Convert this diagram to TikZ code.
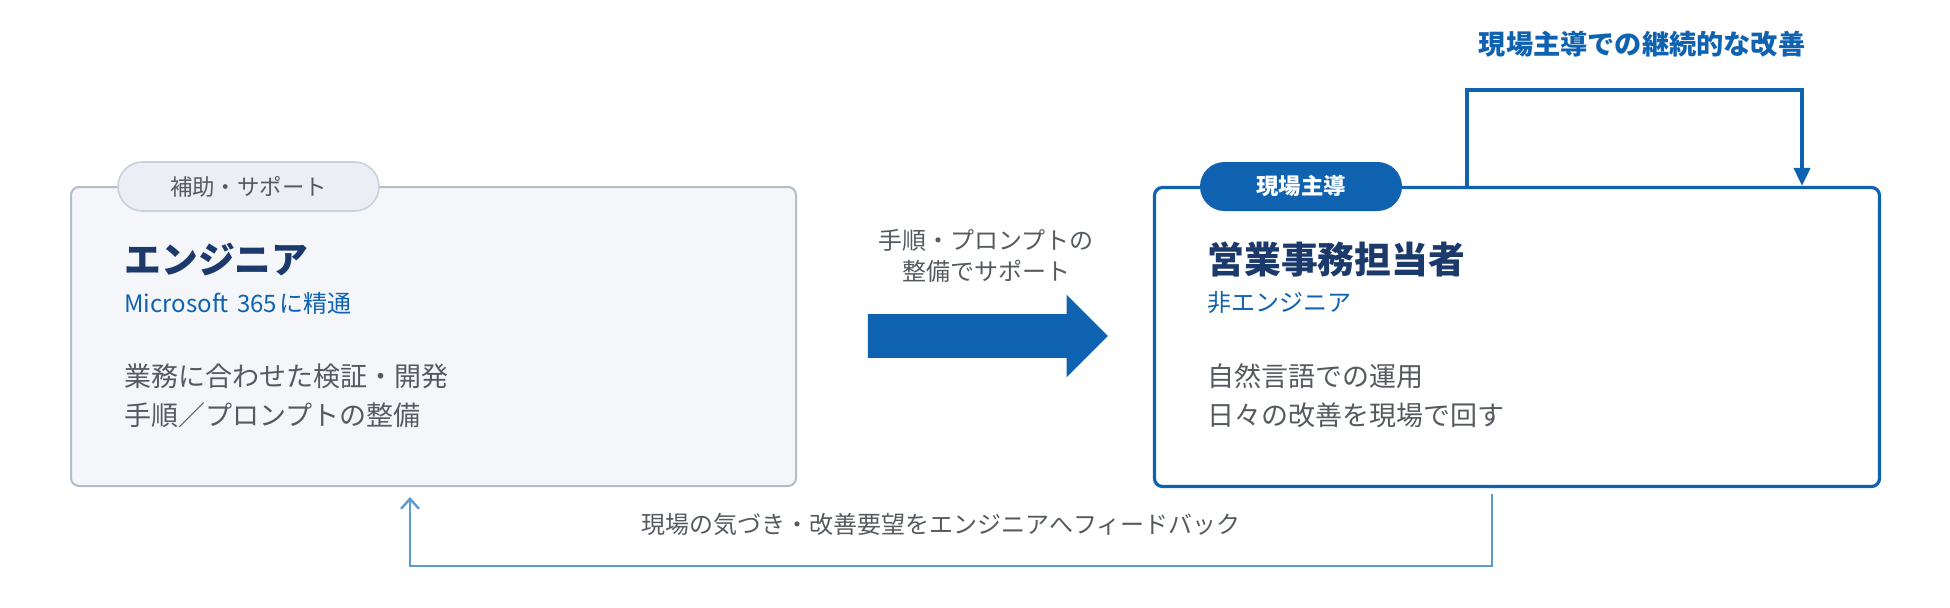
\documentclass[tikz,border=0pt]{standalone}
\usepackage{fontspec}
\setmainfont{Noto Sans CJK JP}
\usetikzlibrary{arrows.meta,shapes.arrows}
\definecolor{mainblue}{HTML}{0F62B0}
\definecolor{titlenavy}{HTML}{1B3A6B}
\definecolor{textgray}{HTML}{555A60}
\definecolor{boxfill}{HTML}{F4F6FA}
\definecolor{boxgray}{HTML}{B4BCC8}
\definecolor{tagfill}{HTML}{EBEFF5}
\definecolor{tagline}{HTML}{C9D1DC}
\definecolor{fbblue}{HTML}{5B9BD5}
\begin{document}
\begin{tikzpicture}[x=0.5pt,y=-0.5pt,
  panel/.style={rectangle,rounded corners=4pt,minimum width=362.5pt,minimum height=149.5pt,inner sep=0pt},
  tag/.style={rectangle,rounded corners=12.25pt,minimum height=24.5pt,inner sep=0pt,font=\fontsize{11.2}{13}\selectfont},
  title/.style={anchor=west,inner sep=0pt,text=titlenavy,font=\fontsize{18.4}{22}\selectfont\bfseries},
  sub/.style={anchor=west,inner sep=0pt,text=mainblue,font=\fontsize{12}{14}\selectfont},
  body/.style={anchor=west,inner sep=0pt,text=textgray,font=\fontsize{13.5}{16}\selectfont},
  note/.style={inner sep=0pt,text=textgray,font=\fontsize{12}{15.5}\selectfont,align=center}]
  \useasboundingbox (0,0) rectangle (1950,607);

  % engineer side
  \node[panel,draw=boxgray,fill=boxfill,line width=1pt] (engineer) at (433.5,336.5) {};
  \node[tag,draw=tagline,fill=tagfill,line width=0.8pt,minimum width=130.5pt,text=textgray] (assisttag) at (248.5,186.5) {補助・サポート};
  \node[title] (engtitle) at (124,259) {エンジニア};
  \node[sub] (engsub) at (124,303) {Microsoft\kern1.5pt{} 365\kern1pt{}に精通};
  \node[body] (engline1) at (124,376) {業務に合わせた検証・開発};
  \node[body] (engline2) at (124,415) {手順／プロンプトの整備};

  % staff side
  \node[panel,draw=mainblue,fill=white,line width=1.6pt] (staff) at (1517,337) {};
  \node[tag,fill=mainblue,minimum width=101pt,text=white,font=\fontsize{11.2}{13}\selectfont\bfseries] (leadtag) at (1301,186.5) {現場主導};
  \node[title] (stafftitle) at (1207,259) {営業事務担当者};
  \node[sub] (staffsub) at (1207,303) {非エンジニア};
  \node[body] (staffline1) at (1207,376) {自然言語での運用};
  \node[body] (staffline2) at (1207,415) {日々の改善を現場で回す};

  % support arrow
  \node[single arrow,fill=mainblue,single arrow head extend=9.75pt,minimum height=120pt,inner sep=0pt] (support) at (977,336) {\rule{0pt}{21.5pt}};
  \node[note] (supportnote) at (986,255.5) {手順・プロンプトの\\整備でサポート};

  % continuous improvement loop
  \coordinate (loopup) at (1467,90);
  \coordinate (loopdown) at (1802,90);
  \draw[mainblue,line width=2pt,-{Triangle[length=9pt,width=8pt]}] (loopup |- staff.north) -- (loopup) -- (loopdown) -- (loopdown |- staff.north);
  \node[inner sep=0pt,text=mainblue,font=\fontsize{13.6}{16}\selectfont\bfseries] (looplabel) at (1642,44) {現場主導での継続的な改善};

  % feedback
  \coordinate (fbright) at (1492,566);
  \coordinate (fbleft) at (410,566);
  \draw[fbblue,line width=1.2pt,-{Straight Barb[length=5pt,width=9pt]},shorten >=5pt,shorten <=3pt] (fbright |- staff.south) -- (fbright) -- (fbleft) -- (fbleft |- engineer.south);
  \node[note] (fblabel) at (941,524) {現場の気づき・改善要望をエンジニアへフィードバック};
\end{tikzpicture}
\end{document}
